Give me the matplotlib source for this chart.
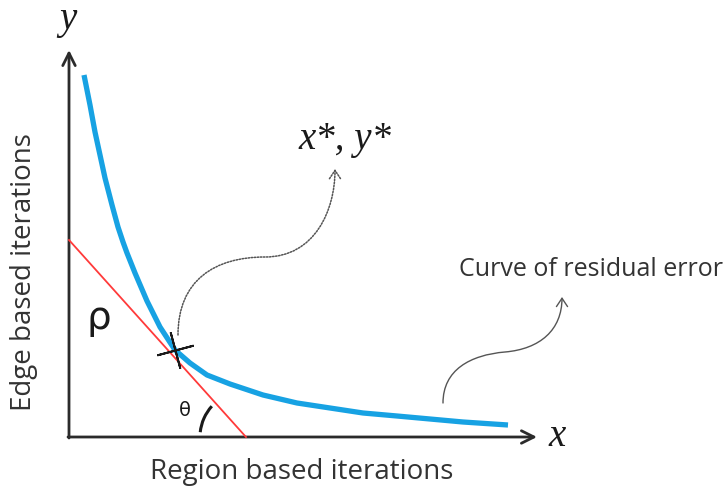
import matplotlib
matplotlib.use("Agg")
import matplotlib.pyplot as plt
from matplotlib.patches import Arc, FancyArrowPatch
from matplotlib.path import Path

# Residual-error curve (region iterations vs edge iterations)
curve_x = [15, 21, 26, 31, 36, 43, 49, 54, 58, 66, 78, 91, 106, 121, 138,
           161, 194, 228, 261, 294, 328, 361, 394, 439]
curve_y = [362, 332, 305, 282, 259, 232, 210, 195, 184, 164, 136, 110, 87, 74, 62,
           53, 42, 34, 29, 24, 21, 18, 15, 12]

# Tangent line at the optimum (x*, y*)
tangent_x = [0, 177]
tangent_y = [197, 0]
optimum = (106, 87)

# Axis extents
x_axis_end = 468
y_axis_end = 387

fig = plt.figure(figsize=(7.27, 4.97), dpi=100)
ax = fig.add_axes([0, 0, 1, 1])
ax.set_xlim(-69, 658)
ax.set_ylim(-60, 437)
ax.axis("off")

axis_col = "#2b2b2b"
text_col = "#333333"

# Axes with open arrowheads
ax.annotate("", xy=(x_axis_end, 0), xytext=(-1, 0),
            arrowprops=dict(arrowstyle="->,head_length=0.9,head_width=0.45",
                            color=axis_col, lw=2.0, shrinkA=0, shrinkB=0))
ax.annotate("", xy=(0, y_axis_end), xytext=(0, -1),
            arrowprops=dict(arrowstyle="->,head_length=0.9,head_width=0.45",
                            color=axis_col, lw=2.0, shrinkA=0, shrinkB=0))

# Tangent line and curve
ax.plot(tangent_x, tangent_y, color="#ff3a3a", lw=1.3, zorder=3)
ax.plot(curve_x, curve_y, color="#17a2e3", lw=3.8, solid_capstyle="butt",
        solid_joinstyle="round", zorder=4)

# Optimum marker
ax.plot(*optimum, marker=(4, 2, 15), markersize=27, markeredgewidth=1.4,
        color="#1a1a1a", zorder=5)

# Angle arc for theta
ax.add_patch(Arc((tangent_x[1], 0), 92, 92, theta1=138, theta2=174,
                 color="#1a1a1a", lw=2.2, zorder=5))

# Curved pointer to x*, y*
codes = [Path.MOVETO, Path.CURVE4, Path.CURVE4, Path.CURVE4,
         Path.CURVE4, Path.CURVE4, Path.CURVE4]
p1 = Path([(109, 102), (109, 157), (146, 180), (196, 180),
           (246, 180), (266, 227), (266, 268)], codes)
ax.add_patch(FancyArrowPatch(path=p1, arrowstyle="->,head_length=6,head_width=4",
                             color="#555555", lw=1.1, linestyle=(0, (1, 1)),
                             zorder=3))

# Curved pointer to the curve label
p2 = Path([(374, 34), (374, 67), (401, 82), (436, 85),
           (471, 88), (493, 107), (493, 140)], codes)
ax.add_patch(FancyArrowPatch(path=p2, arrowstyle="->,head_length=6,head_width=4",
                             color="#555555", lw=1.0, zorder=3))

# Text
ax.text(-1, 417, "y", fontsize=28, family="Liberation Serif", style="italic",
        color="#1a1a1a", ha="center", va="center")
ax.text(488, 1, "x", fontsize=28, family="Liberation Serif", style="italic",
        color="#1a1a1a", ha="center", va="center")
ax.text(276, 297, "x*, y*", fontsize=28, family="Liberation Serif", style="italic",
        color="#1a1a1a", ha="center", va="center")
ax.text(30, 119, "ρ", fontsize=28, family="DejaVu Sans", color="#1a1a1a",
        ha="center", va="center")
ax.text(116, 27, "θ", fontsize=14, family="DejaVu Sans", color="#1a1a1a",
        ha="center", va="center")
ax.text(-45, 165, "Edge based iterations", fontsize=20, family="Open Sans",
        rotation=90, color=text_col, ha="center", va="center")
ax.text(233, -35, "Region based iterations", fontsize=20, family="Open Sans",
        color=text_col, ha="center", va="center")
ax.text(522, 167, "Curve of residual error", fontsize=18, family="Open Sans",
        color=text_col, ha="center", va="center")

fig.savefig("out.png", dpi=100)
